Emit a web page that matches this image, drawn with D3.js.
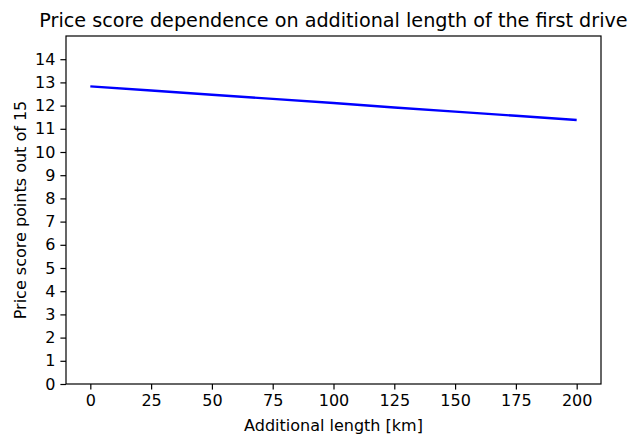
<!DOCTYPE html>
<html><head><meta charset="utf-8">
<script src="https://cdn.jsdelivr.net/npm/d3@7"></script>
<style>body{margin:0;background:#fff}svg{display:block}text{font-family:"DejaVu Sans",sans-serif;fill:#000}</style>
</head><body><svg id="c" width="632" height="439"></svg>
<script>
const lengthsKm = [0, 25, 50, 75, 100, 125, 150, 175, 200];
const priceScore = [12.83, 12.65, 12.47, 12.29, 12.11, 11.92, 11.74, 11.56, 11.38];
const xTicks = [0, 25, 50, 75, 100, 125, 150, 175, 200];
const yTicks = [0,1,2,3,4,5,6,7,8,9,10,11,12,13,14];
const title = "Price score dependence on additional length of the first drive";
const xLabel = "Additional length [km]";
const yLabel = "Price score points out of 15";

const svg = d3.select("#c");
const L = 66, R = 601, T = 36, B = 384;
const x = d3.scaleLinear().domain([-10, 210]).range([L, R]);
const y = d3.scaleLinear().domain([0, 15]).range([B, T]);

const fs = 16;
const xa = svg.append("g").attr("transform", `translate(0,${B})`)
  .call(d3.axisBottom(x).tickValues(xTicks).tickSize(5.6).tickPadding(5).tickFormat(d3.format("d")));
const ya = svg.append("g").attr("transform", `translate(${L},0)`)
  .call(d3.axisLeft(y).tickValues(yTicks).tickSize(5.6).tickPadding(5).tickFormat(d3.format("d")));
[xa, ya].forEach(a => {
  a.select(".domain").remove();
  a.selectAll("line").attr("stroke", "#000").attr("stroke-width", 1.2);
  a.selectAll("text").attr("font-size", fs).attr("font-family", "DejaVu Sans").attr("fill", "#000");
});

svg.append("path")
  .datum(lengthsKm.map((d, i) => [d, priceScore[i]]))
  .attr("fill", "none").attr("stroke", "#0000ff").attr("stroke-width", 2.4)
  .attr("d", d3.line().x(d => x(d[0])).y(d => y(d[1])));

svg.append("rect").attr("x", L).attr("y", T).attr("width", R - L).attr("height", B - T)
  .attr("fill", "none").attr("stroke", "#000").attr("stroke-width", 1.2);

svg.append("text").attr("x", (L + R) / 2).attr("y", 27).attr("text-anchor", "middle")
  .attr("font-size", 19.2).text(title);
svg.append("text").attr("x", (L + R) / 2).attr("y", 431).attr("text-anchor", "middle")
  .attr("font-size", fs).text(xLabel);
svg.append("text").attr("transform", `translate(26,${(T + B) / 2}) rotate(-90)`)
  .attr("text-anchor", "middle").attr("font-size", fs).text(yLabel);
</script></body></html>
